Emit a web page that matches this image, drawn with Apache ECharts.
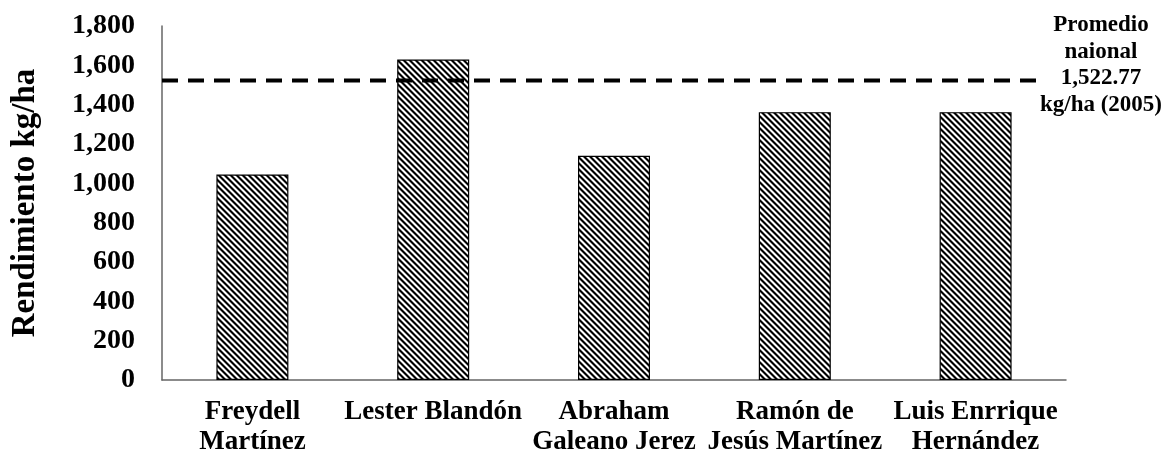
<!DOCTYPE html>
<html>
<head>
<meta charset="utf-8">
<script src="https://cdn.jsdelivr.net/npm/echarts@6/dist/echarts.min.js"></script>
<style>
  html, body { margin: 0; padding: 0; background: #fff; }
  #chart { width: 1164px; height: 452px; }
</style>
</head>
<body>
<div id="chart"></div>
<script>
// Productores y rendimiento de grano (kg/ha)
const productores = [
  'Freydell\nMartínez',
  'Lester Blandón',
  'Abraham\nGaleano Jerez',
  'Ramón de\nJesús Martínez',
  'Luis Enrrique\nHernández'
];
const rendimiento = [1045, 1630, 1140, 1362, 1362];
const promedioNacional = 1522.77;
const anioPromedio = 2005;
const yTicks = { min: 0, max: 1800, interval: 200 };

const FONT = '"Liberation Serif", "Times New Roman", serif';

// Diagonal hatch fill (downward stripes) for the bars
function hatchPattern() {
  const s = 6;
  const c = document.createElement('canvas');
  c.width = s; c.height = s;
  const g = c.getContext('2d');
  g.fillStyle = '#fff';
  g.fillRect(0, 0, s, s);
  g.fillStyle = '#000';
  const w = 3; // stripe width along x
  for (let k = -1; k <= 1; k++) {
    const o = k * s;
    g.beginPath();
    g.moveTo(o, 0);
    g.lineTo(o + w, 0);
    g.lineTo(o + w + s, s);
    g.lineTo(o + s, s);
    g.closePath();
    g.fill();
  }
  return c;
}

const fmt = new Intl.NumberFormat('en-US');
const chart = echarts.init(document.getElementById('chart'), null, { renderer: 'canvas' });

chart.setOption({
  animation: false,
  backgroundColor: '#fff',
  grid: { left: 162, right: 98, top: 26, bottom: 72, outerBoundsMode: 'none', containLabel: false },
  xAxis: [{
    type: 'category',
    data: productores,
    axisLine: { show: true, lineStyle: { color: '#666', width: 1.5 } },
    axisTick: { show: false },
    axisLabel: {
      margin: 17,
      interval: 0,
      fontFamily: FONT, fontWeight: 'bold', fontSize: 27, lineHeight: 30,
      color: '#000', align: 'center'
    }
  }, {
    type: 'value', min: 0, max: 1, show: false
  }],
  yAxis: {
    type: 'value',
    min: yTicks.min, max: yTicks.max, interval: yTicks.interval,
    name: 'Rendimiento kg/ha',
    nameLocation: 'middle',
    nameGap: 120,
    nameTextStyle: { fontFamily: FONT, fontWeight: 'bold', fontSize: 33, color: '#000' },
    axisLine: { show: true, lineStyle: { color: '#666', width: 1.5 } },
    axisTick: { show: false },
    splitLine: { show: false },
    axisLabel: {
      margin: 27,
      fontFamily: FONT, fontWeight: 'bold', fontSize: 28, color: '#000',
      formatter: v => fmt.format(v)
    }
  },
  series: [{
    type: 'bar',
    data: rendimiento,
    barWidth: 72,
    itemStyle: {
      color: { image: hatchPattern(), repeat: 'repeat' },
      borderColor: '#000',
      borderWidth: 1.2
    }
  }, {
    // Promedio nacional: línea discontinua horizontal
    type: 'line',
    xAxisIndex: 1,
    data: [[0, promedioNacional], [0.968, promedioNacional]],
    symbol: 'none',
    lineStyle: { color: '#000', width: 4, type: [16, 10] },
    z: 5
  }],
  graphic: [{
    type: 'text',
    x: 1101,
    y: 12,
    style: {
      text: 'Promedio\nnaional\n' +
        promedioNacional.toLocaleString('en-US', { minimumFractionDigits: 2 }) +
        '\nkg/ha (' + anioPromedio + ')',
      fontFamily: FONT, fontWeight: 'bold', fontSize: 23, lineHeight: 26.5,
      fill: '#000', align: 'center', verticalAlign: 'top'
    }
  }]
});
</script>
</body>
</html>
